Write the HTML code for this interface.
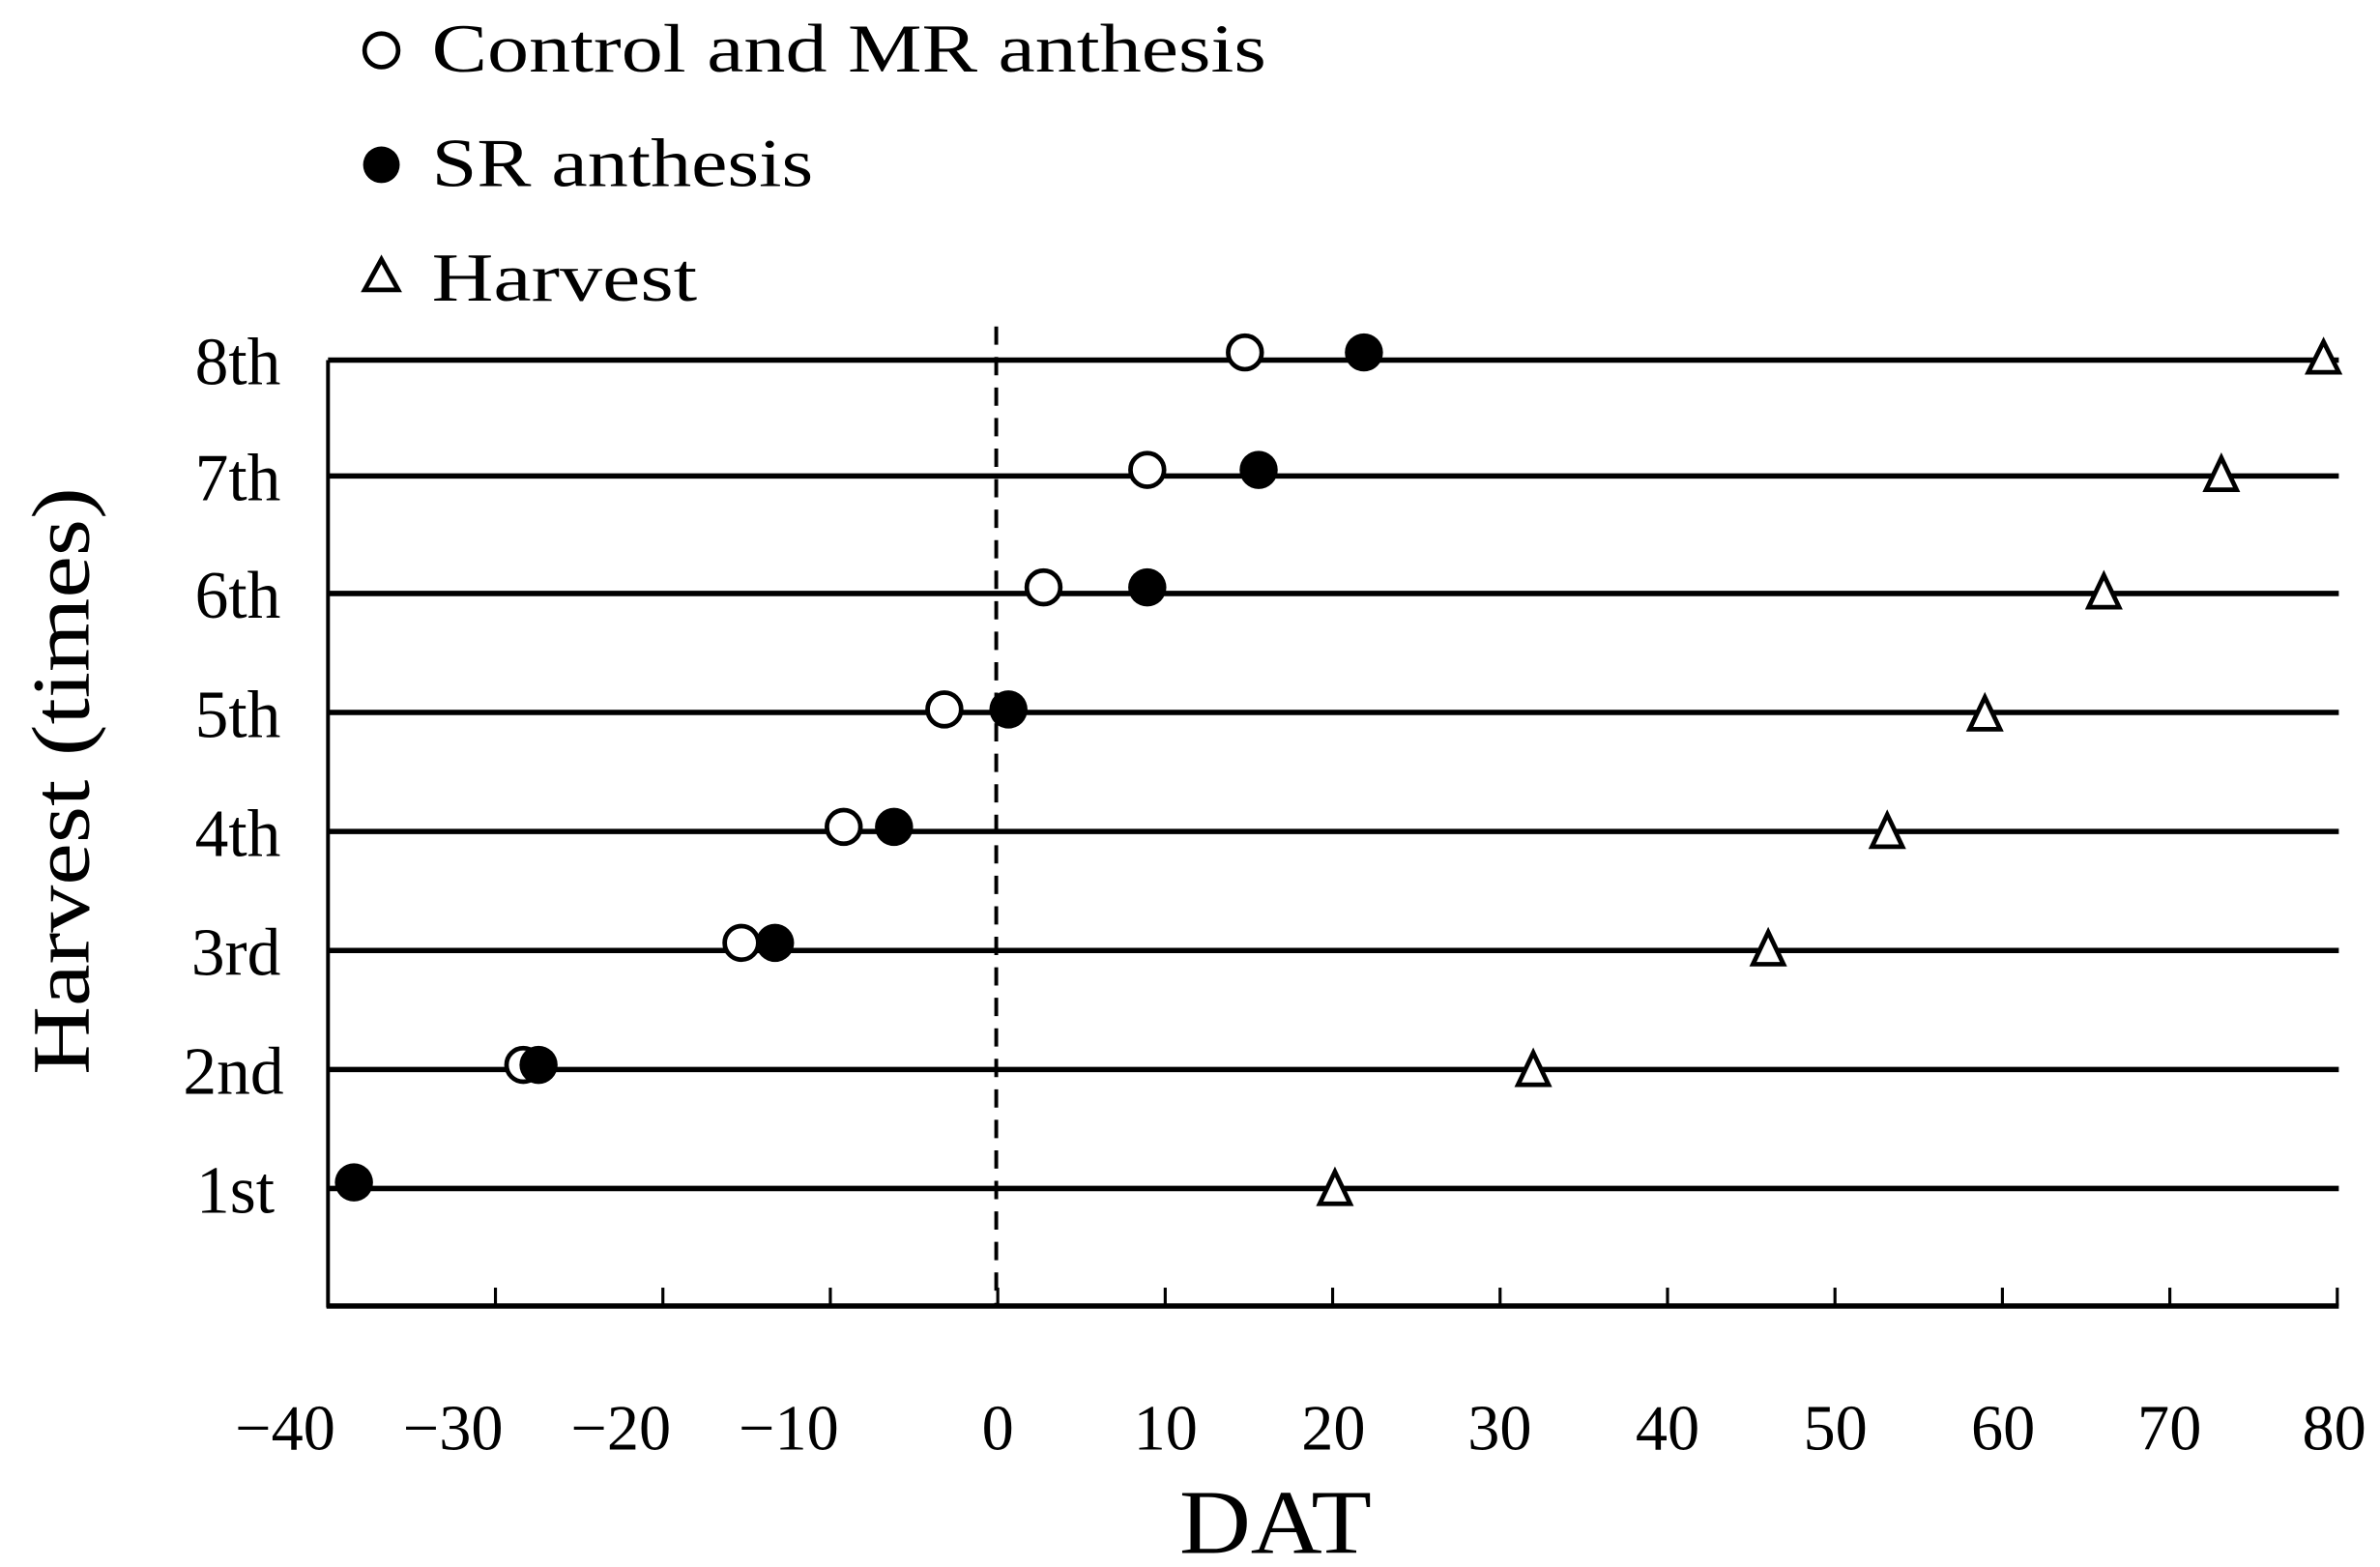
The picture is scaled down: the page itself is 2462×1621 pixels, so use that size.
<!DOCTYPE html>
<html><head><meta charset="utf-8"><style>
html,body{margin:0;padding:0;background:#fff;}
svg{display:block;}
text{font-family:"Liberation Serif",serif;fill:#000;}
</style></head><body>
<svg width="2462" height="1621" viewBox="0 0 1560 1027.1" preserveAspectRatio="none" xmlns="http://www.w3.org/2000/svg">
<!-- legend -->
<circle cx="250" cy="33" r="11" fill="#fff" stroke="#000" stroke-width="3"/>
<text x="283" y="47" font-size="45" textLength="547" lengthAdjust="spacingAndGlyphs">Control and MR anthesis</text>
<circle cx="250" cy="108" r="12" fill="#000"/>
<text x="283" y="122" font-size="45" textLength="250" lengthAdjust="spacingAndGlyphs">SR anthesis</text>
<polygon points="250,170 261,190 239,190" fill="#fff" stroke="#000" stroke-width="3"/>
<text x="283" y="197" font-size="45" textLength="174" lengthAdjust="spacingAndGlyphs">Harvest</text>
<!-- axes -->
<line x1="215" y1="236" x2="215" y2="857" stroke="#000" stroke-width="2.5"/>
<line x1="214" y1="856" x2="1533" y2="856" stroke="#000" stroke-width="3.5"/>
<g stroke="#000" stroke-width="2">
<line x1="324.75" y1="856" x2="324.75" y2="844"/><line x1="434.5" y1="856" x2="434.5" y2="844"/><line x1="544.25" y1="856" x2="544.25" y2="844"/><line x1="654" y1="856" x2="654" y2="844"/><line x1="763.75" y1="856" x2="763.75" y2="844"/><line x1="873.5" y1="856" x2="873.5" y2="844"/><line x1="983.25" y1="856" x2="983.25" y2="844"/><line x1="1093" y1="856" x2="1093" y2="844"/><line x1="1202.75" y1="856" x2="1202.75" y2="844"/><line x1="1312.5" y1="856" x2="1312.5" y2="844"/><line x1="1422.25" y1="856" x2="1422.25" y2="844"/><line x1="1532" y1="856" x2="1532" y2="844"/>
</g>
<!-- dashed zero -->
<line x1="653" y1="214" x2="653" y2="856" stroke="#000" stroke-width="2.5" stroke-dasharray="12,8"/>
<!-- rows -->
<g stroke="#000" stroke-width="3.5">
<line x1="215" y1="236" x2="1533" y2="236"/><line x1="215" y1="312" x2="1533" y2="312"/><line x1="215" y1="389" x2="1533" y2="389"/><line x1="215" y1="467" x2="1533" y2="467"/><line x1="215" y1="545" x2="1533" y2="545"/><line x1="215" y1="623" x2="1533" y2="623"/><line x1="215" y1="701" x2="1533" y2="701"/><line x1="215" y1="779" x2="1533" y2="779"/>
</g>
<!-- open circles -->
<g fill="#fff" stroke="#000" stroke-width="3">
<circle cx="816" cy="231" r="11"/><circle cx="752" cy="308" r="11"/><circle cx="684" cy="385" r="11"/><circle cx="619" cy="465" r="11"/><circle cx="553" cy="542" r="11"/><circle cx="486" cy="618" r="11"/><circle cx="343" cy="698" r="11"/>
</g>
<!-- filled -->
<g fill="#000">
<circle cx="894" cy="231" r="12.5"/><circle cx="825" cy="308" r="12.5"/><circle cx="752" cy="385" r="12.5"/><circle cx="661" cy="465" r="12.5"/><circle cx="586" cy="542" r="12.5"/><circle cx="508" cy="618" r="12.5"/><circle cx="353" cy="698" r="12.5"/><circle cx="232" cy="775" r="12.5"/>
</g>
<!-- triangles -->
<g fill="#fff" stroke="#000" stroke-width="3">
<polygon points="1523,224 1533,244 1513,244"/><polygon points="1456,300 1466,321 1446,321"/><polygon points="1379,377 1389,398 1369,398"/><polygon points="1301,457 1311,478 1291,478"/><polygon points="1237,534 1247,555 1227,555"/><polygon points="1159,611 1169,632 1149,632"/><polygon points="1005,690 1015,711 995,711"/><polygon points="875,768 885,789 865,789"/>
</g>
<!-- y labels -->
<g font-size="44" text-anchor="end">
<text x="184" y="252">8th</text><text x="184" y="328">7th</text><text x="184" y="405">6th</text><text x="184" y="483">5th</text><text x="184" y="561">4th</text><text x="184" y="639">3rd</text><text x="186" y="717">2nd</text><text x="180" y="795">1st</text>
</g>
<text transform="translate(58,512) rotate(-90)" font-size="54" text-anchor="middle" textLength="385" lengthAdjust="spacingAndGlyphs">Harvest (times)</text>
<!-- x labels -->
<g font-size="42" text-anchor="middle">
<text x="187" y="950">−40</text><text x="297" y="950">−30</text><text x="407" y="950">−20</text><text x="517" y="950">−10</text><text x="654" y="950">0</text><text x="764" y="950">10</text><text x="874" y="950">20</text><text x="983" y="950">30</text><text x="1093" y="950">40</text><text x="1203" y="950">50</text><text x="1313" y="950">60</text><text x="1422" y="950">70</text><text x="1530" y="950">80</text>
</g>
<text x="836" y="1018" font-size="60" text-anchor="middle" textLength="126" lengthAdjust="spacingAndGlyphs">DAT</text>
</svg>
</body></html>
